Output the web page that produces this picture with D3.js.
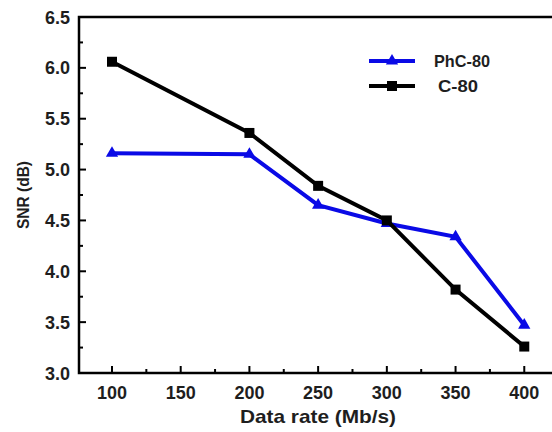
<!DOCTYPE html>
<html>
<head>
<meta charset="utf-8">
<script src="https://cdn.jsdelivr.net/npm/d3@7"></script>
<style>
  body { margin: 0; background: #fff; }
  svg { display: block; }
  text { font-family: "Liberation Sans", Arial, sans-serif; font-weight: bold; fill: #1e1e1e; }
</style>
</head>
<body>
<svg id="chart" width="552" height="432"></svg>
<script>
// SNR vs data rate
const rates   = [100, 200, 250, 300, 350, 400];
const phcSnr  = [5.16, 5.15, 4.65, 4.47, 4.34, 3.47];
const cSnr    = [6.06, 5.36, 4.84, 4.50, 3.82, 3.26];
const xTicks  = [100, 150, 200, 250, 300, 350, 400];
const xMinor  = [125, 175, 225, 275, 325, 375];
const yTicks  = [3.0, 3.5, 4.0, 4.5, 5.0, 5.5, 6.0, 6.5];
const yMinor  = [3.25, 3.75, 4.25, 4.75, 5.25, 5.75, 6.25];

const series = [
  { name: 'PhC-80', values: phcSnr, color: '#0a0ae6', marker: 'triangle' },
  { name: 'C-80',   values: cSnr,   color: '#000',    marker: 'square' }
];

const svg = d3.select('#chart');
const L = 79, T = 17, B = 373;

const x = d3.scaleLinear().domain([76, 425]).range([L, L + 349 * 1.3743]);
const y = d3.scaleLinear().domain([3, 6.5]).range([B, T]);

const g = svg.append('g');

// frame (right side falls off the picture)
g.append('rect')
  .attr('x', x(76)).attr('y', y(6.5))
  .attr('width', x(425) - x(76)).attr('height', y(3) - y(6.5))
  .attr('fill', 'none').attr('stroke', '#000').attr('stroke-width', 2.5);

// x axis ticks (inward)
g.selectAll('.xmaj').data(xTicks).join('line')
  .attr('x1', d => x(d)).attr('x2', d => x(d))
  .attr('y1', B).attr('y2', B - 7)
  .attr('stroke', '#000').attr('stroke-width', 2);
g.selectAll('.xmin').data(xMinor).join('line')
  .attr('class', 'xmin')
  .attr('x1', d => x(d)).attr('x2', d => x(d))
  .attr('y1', B).attr('y2', B - 4)
  .attr('stroke', '#000').attr('stroke-width', 2);
g.selectAll('.xlab').data(xTicks).join('text')
  .attr('class', 'xlab')
  .attr('x', d => x(d)).attr('y', B + 26)
  .attr('text-anchor', 'middle').attr('font-size', 18)
  .text(d => d);

// y axis ticks (inward)
g.selectAll('.ymaj').data(yTicks).join('line')
  .attr('class', 'ymaj')
  .attr('x1', L).attr('x2', L + 7)
  .attr('y1', d => y(d)).attr('y2', d => y(d))
  .attr('stroke', '#000').attr('stroke-width', 2);
g.selectAll('.ymin').data(yMinor).join('line')
  .attr('class', 'ymin')
  .attr('x1', L).attr('x2', L + 4)
  .attr('y1', d => y(d)).attr('y2', d => y(d))
  .attr('stroke', '#000').attr('stroke-width', 2);
g.selectAll('.ylab').data(yTicks).join('text')
  .attr('class', 'ylab')
  .attr('x', L - 9).attr('y', d => y(d) + 6.5)
  .attr('text-anchor', 'end').attr('font-size', 18)
  .text(d => d.toFixed(1));

// axis titles
g.append('text')
  .attr('x', 318).attr('y', 423)
  .attr('text-anchor', 'middle').attr('font-size', 19)
  .attr('textLength', 156).attr('lengthAdjust', 'spacingAndGlyphs')
  .text('Data rate (Mb/s)');
g.append('text')
  .attr('transform', `translate(29,${(T + B) / 2}) rotate(-90)`)
  .attr('text-anchor', 'middle').attr('font-size', 17)
  .attr('textLength', 68).attr('lengthAdjust', 'spacingAndGlyphs')
  .text('SNR (dB)');

// lines + markers
const line = d3.line().x((d, i) => x(rates[i])).y(d => y(d));
const tri = d3.symbol().type(d3.symbolTriangle).size(65);
const sq = d3.symbol().type(d3.symbolSquare).size(100);

series.forEach(s => {
  g.append('path')
    .attr('d', line(s.values))
    .attr('fill', 'none').attr('stroke', s.color).attr('stroke-width', 4)
    .attr('stroke-linejoin', 'miter');
  g.selectAll(null).data(s.values).join('path')
    .attr('transform', (d, i) => `translate(${x(rates[i])},${y(d)})`)
    .attr('d', s.marker === 'triangle' ? tri : sq)
    .attr('fill', s.color);
});

// legend
const leg = g.append('g');
series.forEach((s, i) => {
  const ly = 61 + i * 25;
  leg.append('line')
    .attr('x1', 369).attr('x2', 415).attr('y1', ly).attr('y2', ly)
    .attr('stroke', s.color).attr('stroke-width', 4);
  leg.append('path')
    .attr('transform', `translate(392,${ly})`)
    .attr('d', s.marker === 'triangle' ? tri : sq)
    .attr('fill', s.color);
  leg.append('text')
    .attr('x', i === 0 ? 434 : 438).attr('y', ly + 6)
    .attr('font-size', 17)
    .attr('textLength', i === 0 ? 56 : 40).attr('lengthAdjust', 'spacingAndGlyphs')
    .text(s.name);
});
</script>
</body>
</html>
